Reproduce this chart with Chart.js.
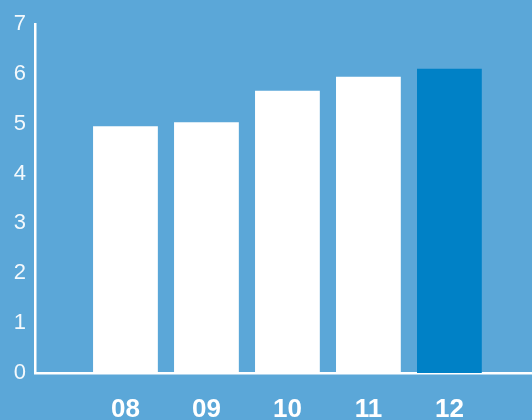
<!DOCTYPE html>
<html>
<head>
<meta charset="utf-8">
<script src="https://cdn.jsdelivr.net/npm/chart.js@4"></script>
<style>
  html, body { margin: 0; padding: 0; background: #5ba7d8; }
  #wrap { width: 532px; height: 420px; }
</style>
</head>
<body>
<div id="wrap"><canvas id="myChart"></canvas></div>
<script>
const categories = ['08', '09', '10', '11', '12'];
const values = [4.95, 5.03, 5.66, 5.94, 6.10];
const yTicks = [0, 1, 2, 3, 4, 5, 6, 7];
const barColors = ['#ffffff', '#ffffff', '#ffffff', '#ffffff', '#0081c6'];

const ctx = document.getElementById('myChart').getContext('2d');

// x is linear on category index so the axis can run past the bars on both sides
const chartInstance = new Chart(ctx, {
  type: 'bar',
  data: {
    datasets: [{
      data: values.map((v, i) => ({ x: i, y: v })),
      backgroundColor: barColors,
      borderWidth: 0,
      barPercentage: 0.8,
      categoryPercentage: 1
    }]
  },
  options: {
    responsive: true,
    maintainAspectRatio: false,
    animation: false,
    layout: { padding: { top: 24, right: 0, left: 0, bottom: 0 } },
    plugins: { legend: { display: false }, tooltip: { enabled: false } },
    scales: {
      x: {
        type: 'linear',
        offset: false,
        min: -1.117,
        max: 5.02,
        grid: { display: false, drawTicks: false },
        border: { color: '#ffffff', width: 2.5 },
        afterBuildTicks: (scale) => {
          scale.ticks = categories.map((c, i) => ({ value: i }));
        },
        afterFit: (scale) => { scale.height = 47; },
        ticks: {
          autoSkip: false,
          maxRotation: 0,
          padding: 21,
          color: '#ffffff',
          font: { family: 'Liberation Sans', size: 26, weight: 'bold' },
          callback: (value) => categories[value]
        }
      },
      y: {
        min: 0,
        max: 7,
        grid: { display: false, drawTicks: false },
        border: { color: '#ffffff', width: 2.5 },
        afterBuildTicks: (scale) => {
          scale.ticks = yTicks.map(v => ({ value: v }));
        },
        afterFit: (scale) => { scale.width = 35; },
        ticks: {
          padding: 9,
          color: 'rgba(255,255,255,0.93)',
          font: { family: 'Liberation Sans', size: 22 }
        }
      }
    }
  }
});
</script>
</body>
</html>
